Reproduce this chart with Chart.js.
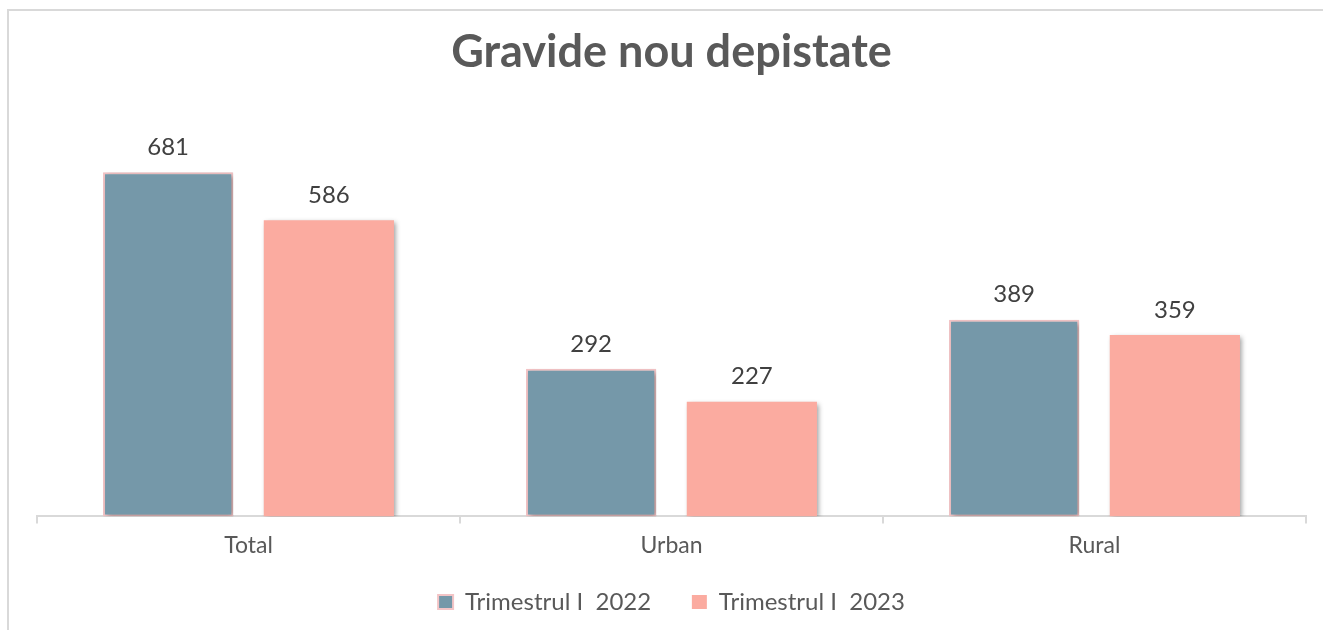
<!DOCTYPE html>
<html>
<head>
<meta charset="utf-8">
<script src="https://cdn.jsdelivr.net/npm/chart.js@4.4.0/dist/chart.umd.min.js"></script>
<style>
html,body{margin:0;padding:0;background:#fff;width:1323px;height:630px;overflow:hidden;}
#frame{position:absolute;left:7px;top:9px;width:1340px;height:650px;border-left:2px solid #d9d9d9;border-top:2px solid #d9d9d9;}
#wrap{position:absolute;left:0;top:0;width:1323px;height:630px;}
</style>
</head>
<body>
<div id="frame"></div>
<div id="wrap"><canvas id="c" width="1323" height="630"></canvas></div>
<script>
const categories = ['Total', 'Urban', 'Rural'];
const seriesNames = ['Trimestrul I  2022', 'Trimestrul I  2023'];
const values2022 = [681, 292, 389];
const values2023 = [586, 227, 359];

const FONT = 'Lato, "Open Sans", sans-serif';

const shadowPlugin = {
  id: 'barShadow',
  beforeDatasetDraw(chart) {
    const ctx = chart.ctx;
    ctx.save();
    ctx.shadowColor = 'rgba(0,0,0,0.4)';
    ctx.shadowBlur = 5;
    ctx.shadowOffsetX = 2;
    ctx.shadowOffsetY = 2;
  },
  afterDatasetDraw(chart) {
    chart.ctx.restore();
  }
};

const labelPlugin = {
  id: 'valueLabels',
  afterDatasetsDraw(chart) {
    const ctx = chart.ctx;
    ctx.save();
    ctx.font = '24px ' + FONT;
    ctx.fillStyle = '#404040';
    ctx.textAlign = 'center';
    ctx.textBaseline = 'middle';
    chart.data.datasets.forEach((ds, i) => {
      chart.getDatasetMeta(i).data.forEach((bar, j) => {
        ctx.fillText(String(ds.data[j]), bar.x, bar.y - 25);
      });
    });
    ctx.restore();
  }
};

new Chart(document.getElementById('c'), {
  type: 'bar',
  data: {
    labels: categories,
    datasets: [
      { label: seriesNames[0], data: values2022, backgroundColor: '#7598a9', borderColor: '#f3c4c6', borderWidth: 2, borderSkipped: false },
      { label: seriesNames[1], data: values2023, backgroundColor: '#fbaba0', borderColor: '#fbaba0', borderWidth: 0 }
    ]
  },
  plugins: [shadowPlugin, labelPlugin],
  options: {
    responsive: false,
    animation: false,
    devicePixelRatio: 1,
    categoryPercentage: 0.76,
    barPercentage: 0.81,
    layout: { padding: { left: 37, right: 17, top: 0, bottom: 6 } },
    scales: {
      x: {
        grid: { display: true, drawOnChartArea: false, drawTicks: true, tickLength: 7, color: '#d9d9d9', lineWidth: 2, offset: true },
        border: { display: true, color: '#d9d9d9', width: 2 },
        ticks: { color: '#595959', font: { family: FONT, size: 23 }, padding: 8 },
        afterFit(scale) { scale.height += 13; }
      },
      y: {
        display: false,
        min: 0,
        max: 800
      }
    },
    plugins: {
      title: {
        display: true,
        text: 'Gravide nou depistate',
        color: '#595959',
        font: { family: FONT, size: 45, weight: 'bold' },
        padding: { top: 25, bottom: 33 }
      },
      legend: {
        position: 'bottom',
        labels: {
          color: '#595959',
          font: { family: FONT, size: 24 },
          boxWidth: 15,
          boxHeight: 14,
          padding: 10,
          generateLabels(chart) {
            const items = Chart.defaults.plugins.legend.labels.generateLabels(chart);
            if (items.length) items[0].text = items[0].text + '     ';
            return items;
          }
        }
      },
      tooltip: { enabled: false }
    }
  }
});
</script>
</body>
</html>
